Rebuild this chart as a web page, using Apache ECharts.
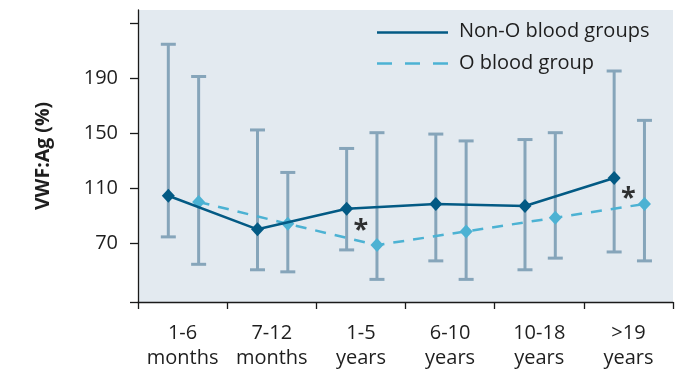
<!DOCTYPE html>
<html>
<head>
<meta charset="utf-8">
<script src="https://cdn.jsdelivr.net/npm/echarts@6/dist/echarts.min.js"></script>
<style>
  html, body { margin: 0; padding: 0; background: #ffffff; }
  #chart { width: 684px; height: 369px; }
</style>
</head>
<body>
<div id="chart"></div>
<script>
// Age groups along the x axis
const categories = ['1-6\nmonths', '7-12\nmonths', '1-5\nyears', '6-10\nyears', '10-18\nyears', '>19\nyears'];

// VWF:Ag (%) — Non-O blood groups: mean, lower and upper whisker
const nonOMean = [104.5, 80, 95, 98.5, 97, 117.5];
const nonOLow  = [74.5, 50.5, 65, 57, 50.5, 63.5];
const nonOHigh = [215, 152.5, 139, 149.5, 145.5, 195.5];

// VWF:Ag (%) — O blood group
const oMean = [100, 84, 68.5, 78.5, 88.5, 98.5];
const oLow  = [54.5, 49, 43.5, 43.5, 59, 57];
const oHigh = [191.5, 121.5, 150.5, 144.5, 150.5, 159.5];

// Significance markers: category index and height of the asterisk
const sigCategories = [2, 5];
const sigValues = [83, 106];

// Y axis ticks and labels
const yTicks = [27, 70, 110, 150, 190, 230];
const yLabels = [70, 110, 150, 190];

const seriesNames = ['Non-O blood groups', 'O blood group'];

const FONT = '"Open Sans", "Noto Sans", sans-serif';
const DARK = '#035a84';
const LIGHT = '#4cb2d3';
const WHISKER = '#86a5ba';
const TEXT = '#1e1e1e';

// horizontal shift of each group inside its age band
const SHIFT_NON_O = -0.16;
const SHIFT_O = 0.18;

function pos(i, shift) { return i + 0.5 + shift; }

const nonOPoints = nonOMean.map((v, i) => [pos(i, SHIFT_NON_O), v]);
const oPoints = oMean.map((v, i) => [pos(i, SHIFT_O), v]);
const nonOBars = nonOLow.map((lo, i) => [pos(i, SHIFT_NON_O), lo, nonOHigh[i]]);
const oBars = oLow.map((lo, i) => [pos(i, SHIFT_O), lo, oHigh[i]]);
const sigPoints = sigCategories.map((c, k) => [c + 0.5, sigValues[k]]);

function renderWhisker(params, api) {
  const x = api.value(0);
  const lo = api.coord([x, api.value(1)]);
  const hi = api.coord([x, api.value(2)]);
  const half = 7.5;
  const style = { stroke: WHISKER, lineWidth: 3, fill: null };
  return {
    type: 'group',
    children: [
      { type: 'line', shape: { x1: lo[0], y1: lo[1], x2: hi[0], y2: hi[1] }, style },
      { type: 'line', shape: { x1: lo[0] - half, y1: lo[1], x2: lo[0] + half, y2: lo[1] }, style },
      { type: 'line', shape: { x1: hi[0] - half, y1: hi[1], x2: hi[0] + half, y2: hi[1] }, style }
    ]
  };
}

const chart = echarts.init(document.getElementById('chart'), null, { renderer: 'canvas' });

chart.setOption({
  animation: false,
  backgroundColor: '#ffffff',
  textStyle: { fontFamily: FONT },
  grid: {
    left: 138, right: 11, top: 10, bottom: 67,
    outerBoundsMode: 'none', containLabel: false,
    show: true, backgroundColor: '#e3eaf0', borderWidth: 0
  },
  xAxis: [
    {
      type: 'category',
      data: categories,
      boundaryGap: true,
      axisLine: { show: true, lineStyle: { color: '#1a1a1a', width: 1.3 } },
      axisTick: { show: true, interval: 0, length: 7, lineStyle: { color: '#1a1a1a', width: 1.3 } },
      axisLabel: {
        interval: 0, margin: 19, fontSize: 20, lineHeight: 25,
        color: TEXT, fontFamily: FONT
      },
      splitLine: { show: false }
    },
    {
      type: 'value', min: 0, max: 6, show: false
    }
  ],
  yAxis: {
    type: 'value',
    min: 27, max: 240,
    name: 'VWF:Ag (%)',
    nameLocation: 'middle',
    nameGap: 85,
    nameTextStyle: { fontSize: 19.5, fontWeight: 'bold', color: TEXT, fontFamily: FONT },
    axisLine: { show: true, lineStyle: { color: '#1a1a1a', width: 1.3 } },
    axisTick: { show: true, length: 8, customValues: yTicks, lineStyle: { color: '#1a1a1a', width: 1.3 } },
    axisLabel: { margin: 20, fontSize: 20, color: TEXT, fontFamily: FONT, customValues: yLabels },
    splitLine: { show: false }
  },
  series: [
    {
      type: 'custom', name: seriesNames[0] + ' range', xAxisIndex: 1,
      renderItem: renderWhisker, data: nonOBars, z: 1, silent: true
    },
    {
      type: 'custom', name: seriesNames[1] + ' range', xAxisIndex: 1,
      renderItem: renderWhisker, data: oBars, z: 1, silent: true
    },
    {
      type: 'line', name: seriesNames[1], xAxisIndex: 1, data: oPoints, z: 3,
      symbol: 'diamond', symbolSize: [13, 14], showAllSymbol: true,
      lineStyle: { color: LIGHT, width: 2.5, type: [11, 9] },
      itemStyle: { color: LIGHT }
    },
    {
      type: 'line', name: seriesNames[0], xAxisIndex: 1, data: nonOPoints, z: 4,
      symbol: 'diamond', symbolSize: [13, 14], showAllSymbol: true,
      lineStyle: { color: DARK, width: 2.5 },
      itemStyle: { color: DARK }
    },
    {
      type: 'scatter', name: 'significance', xAxisIndex: 1, data: sigPoints, z: 5,
      symbolSize: 0,
      label: {
        show: true, position: 'inside', formatter: '*',
        fontSize: 27, fontWeight: 'bold', color: '#000', fontFamily: FONT, offset: [0, 5]
      }
    }
  ],
  graphic: [
    {
      type: 'line', shape: { x1: 377, y1: 32.5, x2: 448, y2: 32.5 },
      style: { stroke: DARK, lineWidth: 2.5 }, z: 10
    },
    {
      type: 'line', shape: { x1: 377, y1: 63.5, x2: 448, y2: 63.5 },
      style: { stroke: LIGHT, lineWidth: 2.5, lineDash: [15, 13] }, z: 10
    },
    {
      type: 'text', left: 459, top: 21, z: 10,
      style: { text: seriesNames[0], fontSize: 20, fill: TEXT, fontFamily: FONT }
    },
    {
      type: 'text', left: 459, top: 53, z: 10,
      style: { text: seriesNames[1], fontSize: 20, fill: TEXT, fontFamily: FONT }
    }
  ]
});
</script>
</body>
</html>
